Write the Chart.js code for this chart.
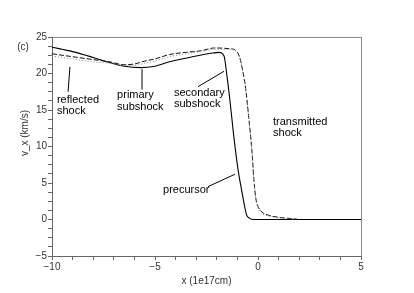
<!DOCTYPE html>
<html>
<head>
<meta charset="utf-8">
<script src="https://cdn.jsdelivr.net/npm/chart.js@4/dist/chart.umd.min.js"></script>
<style>
  html, body { margin: 0; padding: 0; background: #fff; }
  canvas { display: block; }
</style>
</head>
<body>
<canvas id="shockChart" width="414" height="293"></canvas>
<script>
// solid curve (primary / precursor)
const solidX = [-10, -9, -8, -7.2, -6.5, -5.7, -5, -4.3, -3.5, -2.8, -2.2, -1.9, -1.65, -1.5, -1.35, -1.2, -1.1, -0.95, -0.8, -0.65, -0.55, -0.4, -0.2, 5];
const solidY = [23.6, 23.0, 22.2, 21.5, 21.0, 20.8, 21.0, 21.6, 22.1, 22.5, 22.8, 22.9, 22.4, 19.5, 16, 12, 9.6, 6.5, 4.1, 1.8, 0.6, 0.15, 0, 0];

// dashed curve (transmitted shock)
const dashX = [-10, -9, -8, -7.2, -6.5, -6, -5.5, -5, -4.3, -3.5, -2.8, -2.1, -1.4, -1.1, -0.9, -0.75, -0.6, -0.45, -0.3, -0.2, -0.1, 0, 0.2, 0.5, 1, 1.5, 1.9];
const dashY = [22.7, 22.3, 21.9, 21.6, 21.2, 21.3, 21.7, 22.0, 22.6, 22.9, 23.1, 23.5, 23.4, 23.2, 22.3, 20.5, 18, 14, 9.6, 5.5, 2.8, 1.8, 1.0, 0.6, 0.3, 0.15, 0.05];

// dotted grey curve (reflected)
const dotX = [-10, -9, -8, -7.2, -6.5, -6, -5.5, -5, -4.3, -3.5, -2.8, -2.1, -1.4, -1.1, -0.9, -0.75, -0.6, -0.45, -0.3, -0.2, -0.1, 0, 0.2, 0.5, 1, 1.5, 1.9];
const dotY = [22.4, 22.0, 21.6, 21.4, 21.1, 21.1, 21.4, 21.7, 22.3, 22.7, 23.0, 23.3, 23.3, 23.1, 22.2, 20.4, 17.8, 13.8, 9.4, 5.3, 2.7, 1.6, 0.8, 0.5, 0.25, 0.1, 0.05];

const xTitle = 'x (1e17cm)';
const yTitle = 'v_x (km/s)';
const panelLabel = '(c)';

// annotation texts in data units: [x, y, lines]
const labelTexts = [
    [-9.76, 16.4, ['reflected', 'shock']],
    [-6.84, 17.0, ['primary', 'subshock']],
    [-4.08, 17.4, ['secondary', 'subshock']],
    [0.73, 13.4, ['transmitted', 'shock']],
    [-4.61, 4.1, ['precursor']]
];
// pointer lines in data units: [x1, y1, x2, y2]
const pointers = [
    [-9.13, 20.9, -9.22, 17.5],
    [-5.63, 20.6, -5.63, 17.8],
    [-2.91, 18.2, -1.65, 20.3],
    [-2.43, 4.5, -1.12, 6.2]
];

const toPoints = (xs, ys) => xs.map((x, i) => ({ x: x, y: ys[i] }));
const minus = v => String(v).replace('-', '\u2212');

const annotatePlugin = {
    id: 'annotate',
    beforeDraw(chart) {
        const { ctx, chartArea } = chart;
        ctx.save();
        ctx.strokeStyle = '#8a8a8a';
        ctx.lineWidth = 1;
        ctx.strokeRect(chartArea.left + 0.5, chartArea.top + 0.5, chartArea.right - chartArea.left, chartArea.bottom - chartArea.top);
        ctx.restore();
    },
    afterDraw(chart) {
        const { ctx, chartArea } = chart;
        const sx = chart.scales.x, sy = chart.scales.y;
        ctx.save();
        ctx.fillStyle = '#000';
        ctx.font = '11px "Liberation Sans", Arial, sans-serif';
        ctx.textBaseline = 'middle';
        ctx.textAlign = 'left';
        labelTexts.forEach(([x, y, lines]) => {
            const px = sx.getPixelForValue(x);
            const py = sy.getPixelForValue(y);
            lines.forEach((t, i) => ctx.fillText(t, px, py + i * 11.5));
        });
        ctx.strokeStyle = '#000';
        ctx.lineWidth = 1;
        pointers.forEach(([x1, y1, x2, y2]) => {
            ctx.beginPath();
            ctx.moveTo(sx.getPixelForValue(x1), sy.getPixelForValue(y1));
            ctx.lineTo(sx.getPixelForValue(x2), sy.getPixelForValue(y2));
            ctx.stroke();
        });

        ctx.fillStyle = '#333';
        ctx.font = '10px "Liberation Sans", Arial, sans-serif';
        ctx.textAlign = 'center';
        ctx.fillText(xTitle, (chartArea.left + chartArea.right) / 2, 281);
        ctx.fillText(panelLabel, 23, 47);
        ctx.translate(25, 133);
        ctx.rotate(-Math.PI / 2);
        ctx.fillText(yTitle, 0, 0);
        ctx.restore();
    }
};

const ctx = document.getElementById('shockChart').getContext('2d');
new Chart(ctx, {
    type: 'line',
    data: {
        datasets: [
            {
                label: 'dotted',
                data: toPoints(dotX, dotY),
                borderColor: '#888',
                borderWidth: 1,
                borderDash: [1, 2],
                pointRadius: 0,
                cubicInterpolationMode: 'monotone'
            },
            {
                label: 'dashed',
                data: toPoints(dashX, dashY),
                borderColor: '#111',
                borderWidth: 1,
                borderDash: [5, 2],
                pointRadius: 0,
                cubicInterpolationMode: 'monotone'
            },
            {
                label: 'solid',
                data: toPoints(solidX, solidY),
                borderColor: '#000',
                borderWidth: 1.1,
                pointRadius: 0,
                cubicInterpolationMode: 'monotone'
            }
        ]
    },
    options: {
        responsive: false,
        animation: false,
        layout: { padding: { top: 37, right: 53, left: 0, bottom: 0 } },
        plugins: {
            legend: { display: false },
            tooltip: { enabled: false }
        },
        scales: {
            x: {
                type: 'linear',
                min: -10,
                max: 5,
                afterFit: scale => { scale.height = 37; },
                grid: { drawOnChartArea: false, drawTicks: true, tickLength: 4, tickColor: '#666' },
                border: { display: true, color: '#666' },
                ticks: {
                    stepSize: 1,
                    autoSkip: false,
                    maxRotation: 0,
                    padding: 1,
                    color: '#333',
                    font: { size: 10, family: '"Liberation Sans", Arial, sans-serif' },
                    callback: v => (Math.abs(v % 5) < 1e-6 ? minus(v) : '')
                }
            },
            y: {
                min: -5,
                max: 25,
                afterFit: scale => { scale.width = 52; },
                grid: { drawOnChartArea: false, drawTicks: true, tickLength: 4, tickColor: '#666' },
                border: { display: true, color: '#666' },
                ticks: {
                    stepSize: 1.25,
                    autoSkip: false,
                    padding: 1,
                    color: '#333',
                    font: { size: 10, family: '"Liberation Sans", Arial, sans-serif' },
                    callback: v => (Math.abs(v % 5) < 1e-6 ? minus(v) : '')
                }
            }
        }
    },
    plugins: [annotatePlugin]
});
</script>
</body>
</html>
